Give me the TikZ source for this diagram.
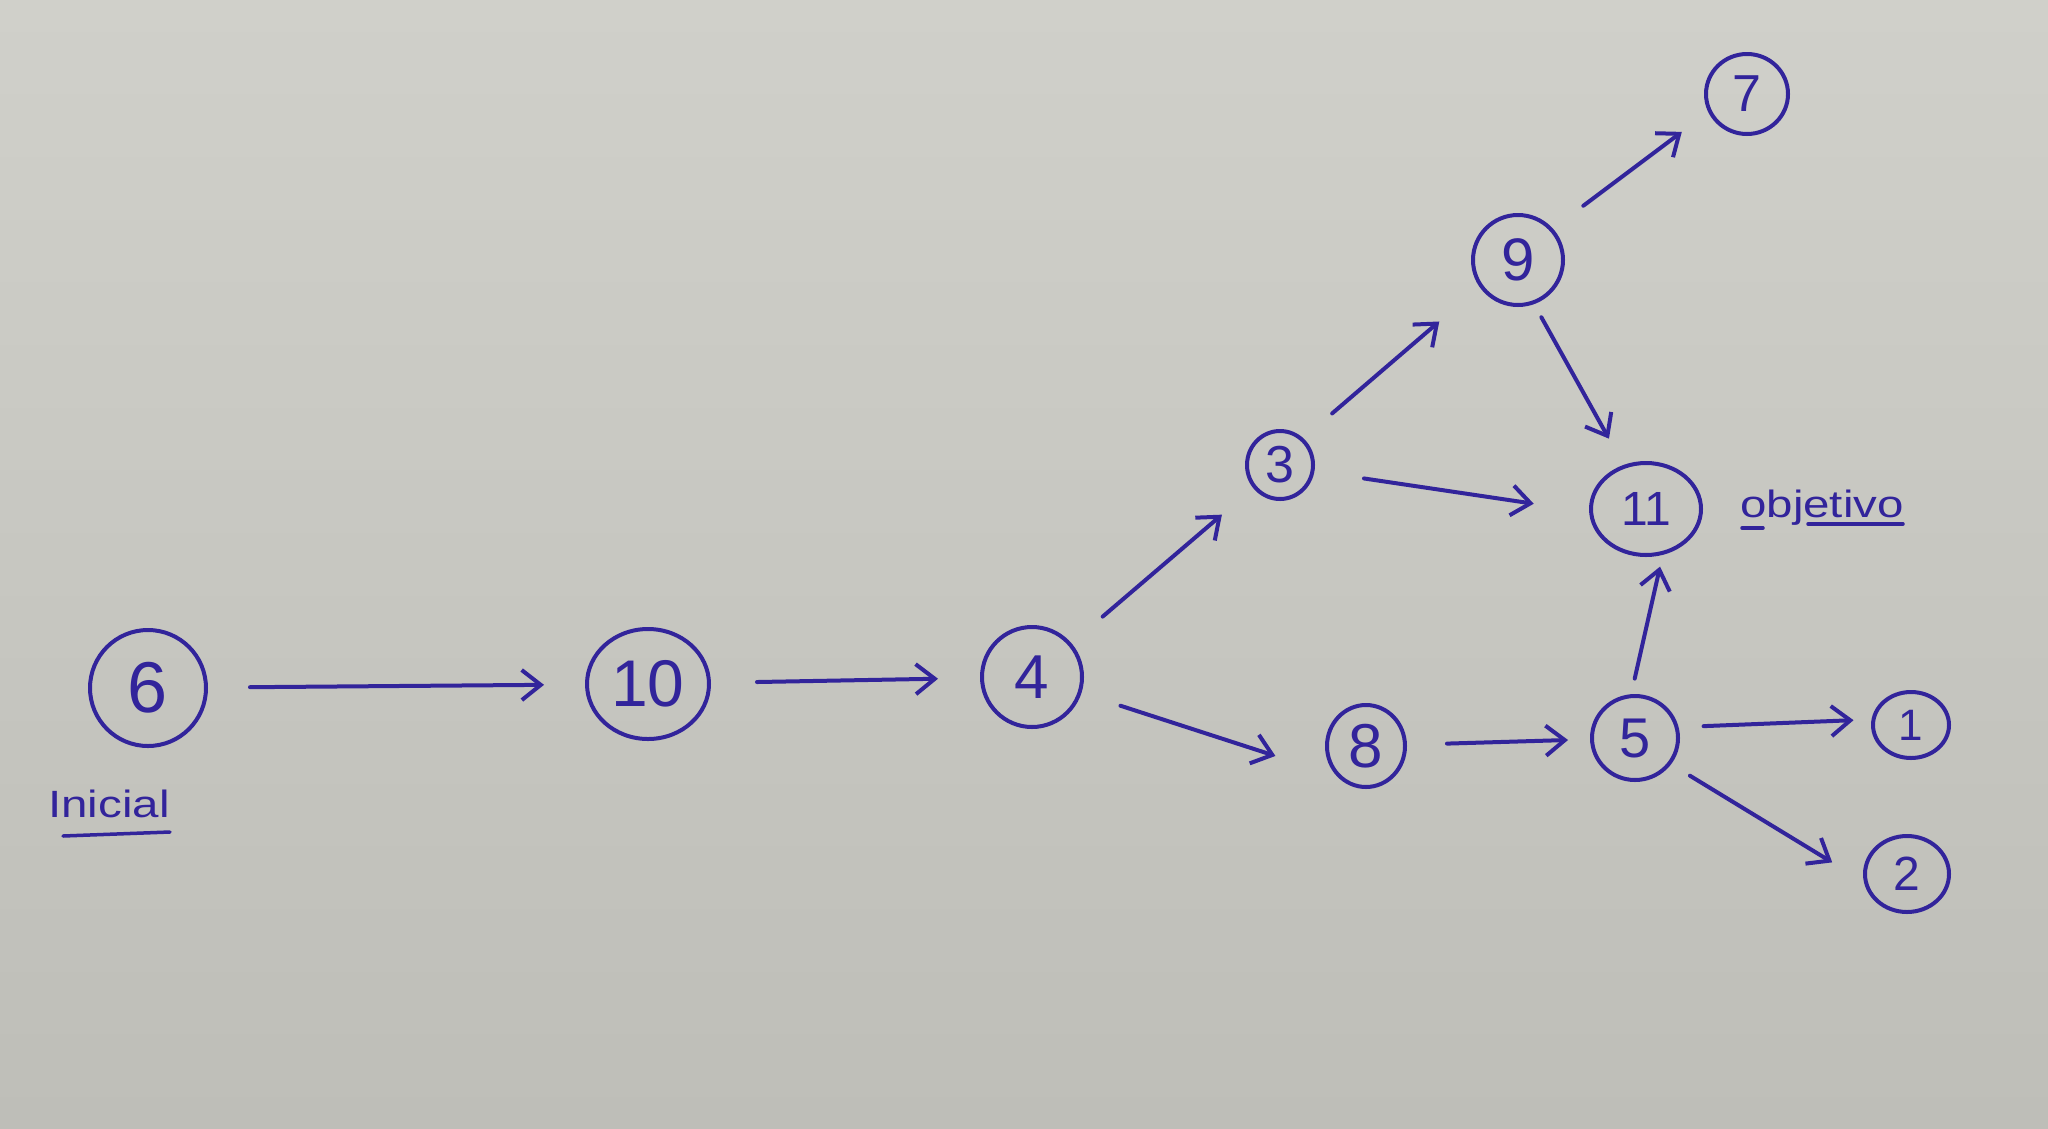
\documentclass[tikz,border=0pt]{standalone}
\usepackage{fontspec}
\setmainfont{Liberation Sans}
\newfontfamily\handfont[FakeStretch=1.25]{Liberation Sans}
\usetikzlibrary{arrows.meta,shapes.geometric}
\definecolor{ink}{RGB}{50,36,155}
\definecolor{paperA}{RGB}{208,208,202}
\definecolor{paperB}{RGB}{190,190,184}
\tikzset{
  gnode/.style={shape=ellipse, draw=ink, line width=4pt, inner sep=0pt, text=ink},
  numf/.style={font=\fontsize{#1}{#1}\selectfont},
  arr/.style={draw=ink, line width=4pt, line cap=round,
    -{Straight Barb[length=19pt,width=30pt,line width=4pt]}},
  lbl/.style={text=ink, inner sep=0pt, font=\handfont\fontsize{38}{38}\selectfont},
  uline/.style={draw=ink, line width=3.5pt, line cap=round}
}
\begin{document}
\begin{tikzpicture}[x=1pt,y=-1pt]
\useasboundingbox (0,0) rectangle (2048,1128);
\shade[top color=paperA, bottom color=paperB] (0,0) rectangle (2048,1128);

\node[gnode, minimum width=116pt, minimum height=116pt, numf=72] (n6) at (148,688) {6};
\node[gnode, minimum width=122pt, minimum height=110pt, numf=66] (n10) at (648,684) {10};
\node[gnode, minimum width=100pt, minimum height=100pt, numf=62] (n4) at (1032,677) {4};
\node[gnode, minimum width=66pt, minimum height=68pt, numf=52] (n3) at (1280,465) {3};
\node[gnode, minimum width=90pt, minimum height=90pt, numf=60] (n9) at (1518,260) {9};
\node[gnode, minimum width=82pt, minimum height=80pt, numf=52] (n7) at (1747,94) {7};
\node[gnode, minimum width=110pt, minimum height=92pt, numf=48] (n11) at (1646,509) {11};
\node[gnode, minimum width=78pt, minimum height=82pt, numf=62] (n8) at (1366,746) {8};
\node[gnode, minimum width=86pt, minimum height=84pt, numf=56] (n5) at (1635,738) {5};
\node[gnode, minimum width=76pt, minimum height=66pt, numf=44] (n1) at (1911,725) {1};
\node[gnode, minimum width=84pt, minimum height=76pt, numf=48] (n2) at (1907,874) {2};

\node[lbl, anchor=base west] (inicial) at (48,817) {Inicial};
\node[lbl, anchor=base west] (objetivo) at (1740,517) {objetivo};
\draw[uline] (63,836) -- (170,832);
\draw[uline] (1742,528) -- (1763,528);
\draw[uline] (1808,524) -- (1903,524);

\draw[arr, shorten <=42pt, shorten >=41pt] (n6) -- (n10);
\draw[arr, shorten <=46pt, shorten >=42pt] (n10) -- (n4);
\draw[arr, shorten <=41pt, shorten >=41pt] (n4) -- (n3);
\draw[arr, shorten <=41pt, shorten >=64pt] (n4.-18) -- (n8.225);
\draw[arr, shorten <=38pt, shorten >=53pt] (n3.49) -- (n9.215);
\draw[arr, shorten <=50pt, shorten >=56pt] (n3.-10) -- (n11.183);
\draw[arr, shorten <=38pt, shorten >=33pt] (n9.42) -- (n7.205);
\draw[arr, shorten <=15pt, shorten >=30pt] (n9.-70) -- (n11.117);
\draw[arr, shorten <=40pt, shorten >=22pt] (n8) -- (n5);
\draw[arr, shorten <=16pt, shorten >=12pt] (n5.95) -- (n11.-70);
\draw[arr, shorten <=25pt, shorten >=18pt] (n5.14) -- (n1.172);
\draw[arr, shorten <=22pt, shorten >=37pt] (n5.-36) -- (n2.190);
\end{tikzpicture}
\end{document}
